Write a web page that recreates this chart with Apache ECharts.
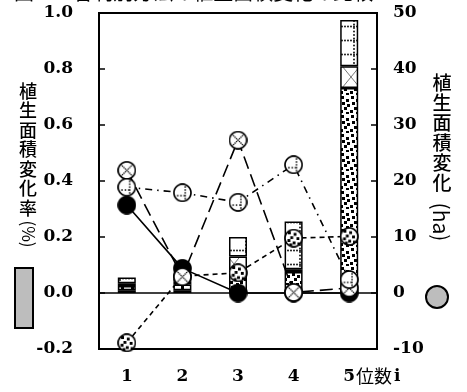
<!DOCTYPE html>
<html>
<head>
<meta charset="utf-8">
<script src="https://cdn.jsdelivr.net/npm/echarts@6/dist/echarts.min.js"></script>
<style>
  html, body { margin: 0; padding: 0; background: #fff; }
  #main { width: 467px; height: 392px; }
</style>
</head>
<body>
<div id="main"></div>
<script>
  // categories (位数 i)
  var categories = ['1', '2', '3', '4', '5'];

  // 植生面積変化率 (left axis, stacked bars)
  var rateBlack = [0.01, 0.01, 0, 0, 0];
  var rateChecker = [0.015, 0.02, 0.08, 0.075, 0.732];
  var rateCross = [0.01, 0.01, 0.05, 0.01, 0.078];
  var rateDotted = [0.02, 0.01, 0.07, 0.17, 0.165];

  // 植生面積変化 ha (right axis, circles)
  var areaBlack = [15.7, 4.4, 0, 0, 0];
  var areaChecker = [-8.9, 3.0, 3.6, 9.8, 10.1];
  var areaCross = [21.9, 2.9, 27.3, 0.1, 0.9];
  var areaDotted = [18.9, 17.9, 16.2, 22.9, 2.4];

  var leftTicks = { min: -0.2, max: 1.0, interval: 0.2 };
  var rightTicks = { min: -10, max: 50, interval: 10 };

  var labelFont = 'DejaVu Serif';
  var cjkFont = 'Noto Sans CJK JP';

  //小さいcanvasを作る
  function newCanvas(w, h) {
    var c = document.createElement('canvas');
    c.width = w;
    c.height = h;
    return c;
  }

  function dotLine(g, x0, y0, x1, y1, step, r) {
    var len = Math.sqrt((x1 - x0) * (x1 - x0) + (y1 - y0) * (y1 - y0));
    var n = Math.floor(len / step);
    for (var i = 0; i <= n; i++) {
      var t = n === 0 ? 0 : i / n;
      g.beginPath();
      g.arc(x0 + (x1 - x0) * t, y0 + (y1 - y0) * t, r, 0, Math.PI * 2);
      g.fill();
    }
  }

  //棒グラフの模様
  function barPattern(kind) {
    var c, g;
    if (kind === 'checker') {
      c = newCanvas(10, 19);
      g = c.getContext('2d');
      g.fillStyle = '#fff';
      g.fillRect(0, 0, 10, 19);
      g.fillStyle = '#000';
      var spots = [[1, 1], [6, 4], [2, 7], [7, 9], [4, 12], [0, 15], [6, 17]];
      for (var k = 0; k < spots.length; k++) {
        g.fillRect(spots[k][0], spots[k][1], 3, 3);
      }
    } else if (kind === 'cross') {
      c = newCanvas(18, 22);
      g = c.getContext('2d');
      g.fillStyle = '#fff';
      g.fillRect(0, 0, 18, 22);
      g.strokeStyle = '#555';
      g.lineWidth = 0.8;
      g.beginPath();
      g.moveTo(0, 0); g.lineTo(18, 22);
      g.moveTo(18, 0); g.lineTo(0, 22);
      g.stroke();
    } else {
      c = newCanvas(18, 14);
      g = c.getContext('2d');
      g.fillStyle = '#fff';
      g.fillRect(0, 0, 18, 14);
      g.fillStyle = '#000';
      dotLine(g, 12, 0, 12, 14, 3.5, 0.9);
      dotLine(g, 0, 12.5, 18, 12.5, 3, 0.9);
    }
    return { image: c, repeat: 'repeat' };
  }

  //丸記号
  function circleSymbol(kind) {
    var c = newCanvas(40, 40);
    var g = c.getContext('2d');
    g.beginPath();
    g.arc(20, 20, 18, 0, Math.PI * 2);
    g.fillStyle = kind === 'black' ? '#000' : '#fff';
    g.fill();
    g.save();
    g.clip();
    g.fillStyle = '#000';
    if (kind === 'checker') {
      var sq = [[8, 6], [20, 9], [13, 16], [26, 18], [7, 22], [18, 27], [28, 29], [11, 31]];
      for (var i = 0; i < sq.length; i++) {
        g.fillRect(sq[i][0], sq[i][1], 6, 6);
      }
    } else if (kind === 'cross') {
      dotLine(g, 8, 8, 32, 32, 4, 1.6);
      dotLine(g, 32, 8, 8, 32, 4, 1.6);
    } else if (kind === 'dotted') {
      dotLine(g, 26, 8, 26, 32, 5, 1.8);
      dotLine(g, 10, 26, 24, 26, 5, 1.8);
    }
    g.restore();
    g.beginPath();
    g.arc(20, 20, 18, 0, Math.PI * 2);
    g.lineWidth = 3.4;
    g.strokeStyle = '#000';
    g.stroke();
    return 'image://' + c.toDataURL();
  }

  function barSeries(name, data, color) {
    return {
      name: name,
      type: 'bar',
      stack: 'rate',
      yAxisIndex: 0,
      barWidth: 18,
      z: 1,
      itemStyle: { color: color, borderColor: '#000', borderWidth: 1.5 },
      data: data
    };
  }

  function lineSeries(name, data, kind, dash, z) {
    return {
      name: name,
      type: 'line',
      yAxisIndex: 1,
      symbol: circleSymbol(kind),
      symbolSize: 19,
      z: z,
      lineStyle: { color: '#000', width: 1.6, type: dash },
      itemStyle: { color: '#000' },
      data: data
    };
  }

  var chart = echarts.init(document.getElementById('main'));

  var axisLabelStyle = {
    fontFamily: labelFont,
    fontWeight: 'bold',
    fontSize: 17,
    color: '#000'
  };

  var option = {
    animation: false,
    grid: { left: 99, right: 90, top: 13, bottom: 43, show: true, borderColor: '#000', borderWidth: 2 },
    xAxis: {
      type: 'category',
      data: categories,
      axisLine: { show: false },
      axisTick: { show: false },
      axisLabel: Object.assign({ margin: 19 }, axisLabelStyle)
    },
    yAxis: [
      {
        type: 'value',
        min: leftTicks.min,
        max: leftTicks.max,
        interval: leftTicks.interval,
        splitLine: { show: false },
        axisLine: { show: false },
        axisTick: { show: true, inside: true, length: 6, lineStyle: { color: '#000', width: 1.5 } },
        axisLabel: Object.assign({
          margin: 26,
          formatter: function (v) { return v.toFixed(1); }
        }, axisLabelStyle)
      },
      {
        type: 'value',
        min: rightTicks.min,
        max: rightTicks.max,
        interval: rightTicks.interval,
        splitLine: { show: false },
        axisLine: { show: false },
        axisTick: { show: true, inside: true, length: 6, lineStyle: { color: '#000', width: 1.5 } },
        axisLabel: Object.assign({ margin: 16 }, axisLabelStyle)
      }
    ],
    series: [
      (function () {
        var s = barSeries('black', rateBlack, '#000');
        s.markLine = {
          silent: true,
          symbol: 'none',
          label: { show: false },
          lineStyle: { color: '#000', width: 1.6, type: 'solid' },
          data: [{ yAxis: 0 }]
        };
        return s;
      })(),
      barSeries('checker', rateChecker, barPattern('checker')),
      barSeries('cross', rateCross, barPattern('cross')),
      barSeries('dotted', rateDotted, barPattern('dotted')),
      lineSeries('黒', areaBlack, 'black', 'solid', 3),
      lineSeries('市松', areaChecker, 'checker', [5, 4], 4),
      lineSeries('×', areaCross, 'cross', [13, 6], 5),
      lineSeries('点', areaDotted, 'dotted', [7, 5, 1.5, 5], 6)
    ],
    graphic: [
      {
        type: 'text', x: 14, y: -18,
        style: { text: '図-4.2 各判別方法の植生面積変化の比較', fill: '#000', font: '20px "' + cjkFont + '"' }
      },
      {
        type: 'text', x: 28, y: 81,
        style: {
          text: '植\n生\n面\n積\n変\n化\n率', fill: '#000', textAlign: 'center',
          font: '500 18px "' + cjkFont + '"', lineHeight: 19.5
        }
      },
      {
        type: 'text', x: 28, y: 234, rotation: -Math.PI / 2,
        style: { text: '(%)', fill: '#000', textAlign: 'center', textVerticalAlign: 'middle', font: '17px "' + cjkFont + '"' }
      },
      {
        type: 'rect', shape: { x: 15, y: 268, width: 18, height: 60 },
        style: { fill: '#bdbdbd', stroke: '#000', lineWidth: 2 }
      },
      {
        type: 'text', x: 442, y: 73,
        style: {
          text: '植\n生\n面\n積\n変\n化', fill: '#000', textAlign: 'center',
          font: '500 19px "' + cjkFont + '"', lineHeight: 20
        }
      },
      {
        type: 'text', x: 441, y: 222, rotation: -Math.PI / 2,
        style: { text: '(ha)', fill: '#000', textAlign: 'center', textVerticalAlign: 'middle', font: '21px "' + cjkFont + '"' }
      },
      {
        type: 'circle', shape: { cx: 437, cy: 297, r: 11 },
        style: { fill: '#bdbdbd', stroke: '#000', lineWidth: 2 }
      },
      {
        type: 'text', x: 356, y: 367,
        style: { text: '位数', fill: '#000', font: '18px "' + cjkFont + '"' }
      },
      {
        type: 'text', x: 394, y: 368,
        style: { text: 'i', fill: '#000', font: 'bold 17px "' + labelFont + '"' }
      }
    ]
  };

  chart.setOption(option);
</script>
</body>
</html>
